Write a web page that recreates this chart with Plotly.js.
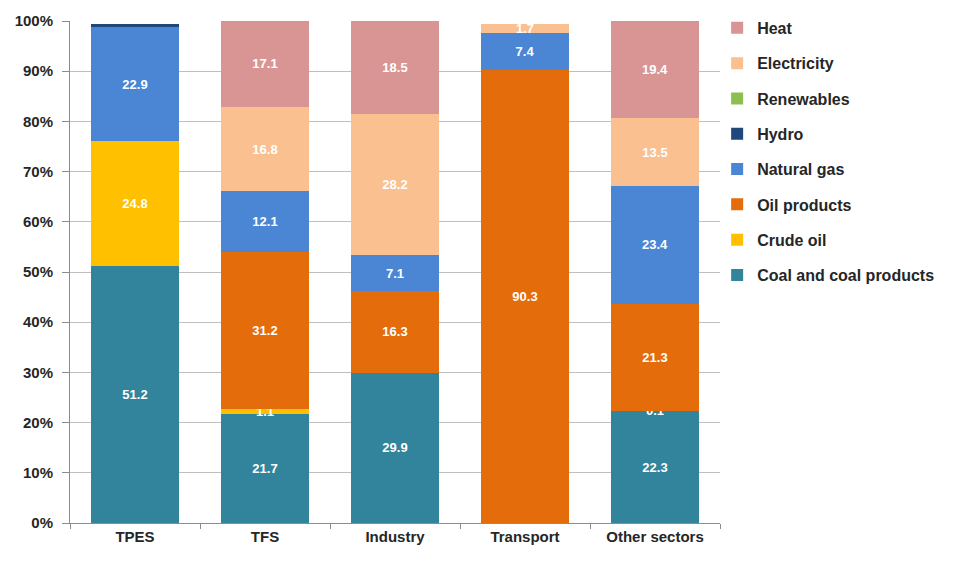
<!DOCTYPE html>
<html>
<head>
<meta charset="utf-8">
<script src="https://cdn.plot.ly/plotly-3.0.1.min.js"></script>
<style>
  html, body { margin: 0; padding: 0; background: #ffffff; }
  #chart { width: 959px; height: 561px; }
</style>
</head>
<body>
<div id="chart"></div>
<script>
// Sectors on the x axis
const categories = ['TPES', 'TFS', 'Industry', 'Transport', 'Other sectors'];

// Share of each energy source per sector (%)
const coal        = [51.2, 21.7, 29.9, 0,    22.3];
const crudeOil    = [24.8, 1.1,  0,    0,    0.1];
const oilProducts = [0,    31.2, 16.3, 90.3, 21.3];
const naturalGas  = [22.9, 12.1, 7.1,  7.4,  23.4];
const hydro       = [0.6,  0,    0,    0,    0];
const renewables  = [0,    0,    0,    0,    0];
const electricity = [0,    16.8, 28.2, 1.7,  13.5];
const heat        = [0,    17.1, 18.5, 0,    19.4];

// Which segments carry a value label
const showLabel = {
  coal:        [true, true, true, false, true],
  crudeOil:    [true, true, false, false, true],
  oilProducts: [false, true, true, true, true],
  naturalGas:  [true, true, true, true, true],
  hydro:       [false, false, false, false, false],
  renewables:  [false, false, false, false, false],
  electricity: [false, true, true, true, true],
  heat:        [false, true, true, false, true]
};

const series = [
  { name: 'Coal and coal products', values: coal,        key: 'coal',        color: '#31849b' },
  { name: 'Crude oil',              values: crudeOil,    key: 'crudeOil',    color: '#ffc000' },
  { name: 'Oil products',           values: oilProducts, key: 'oilProducts', color: '#e46c0a' },
  { name: 'Natural gas',            values: naturalGas,  key: 'naturalGas',  color: '#4a86d4' },
  { name: 'Hydro',                  values: hydro,       key: 'hydro',       color: '#1f497d' },
  { name: 'Renewables',             values: renewables,  key: 'renewables',  color: '#8cbf4f' },
  { name: 'Electricity',            values: electricity, key: 'electricity', color: '#fac090' },
  { name: 'Heat',                   values: heat,        key: 'heat',        color: '#d99594' }
];

const fam = '"Liberation Sans Narrow", "Arial Narrow", "Liberation Sans", Arial, sans-serif';
const labelFont = { family: fam, size: 13, color: '#ffffff', weight: 'bold' };
const axisFont  = { family: fam, size: 15, color: '#262626', weight: 'bold' };

const traces = series.map((s, i) => ({
  type: 'bar',
  name: s.name,
  x: categories,
  y: s.values,
  legendgroup: 'g' + i,
  legendrank: 100 - i,
  marker: { color: s.color, line: { width: 0 } },
  text: s.values.map((v, j) => showLabel[s.key][j] ? v.toFixed(1) : ''),
  texttemplate: '%{text}',
  textposition: 'inside',
  insidetextanchor: 'middle',
  textangle: 0,
  constraintext: 'none',
  cliponaxis: false,
  textfont: labelFont,
  hoverinfo: 'x+y+name'
}));

const layout = {
  width: 959,
  height: 561,
  margin: { l: 70, r: 239, t: 21, b: 38, autoexpand: false },
  paper_bgcolor: '#ffffff',
  plot_bgcolor: '#ffffff',
  barmode: 'stack',
  bargap: 0.33,
  showlegend: true,
  legend: {
    x: 0.991, xanchor: 'left',
    y: 1.026, yanchor: 'top',
    traceorder: 'grouped',
    tracegroupgap: 11.5,
    font: { family: fam, size: 16, color: '#262626', weight: 'bold' },
    itemwidth: 30,
    borderwidth: 3,
    bordercolor: 'rgba(255,255,255,0)',
    bgcolor: 'rgba(0,0,0,0)'
  },
  xaxis: {
    type: 'category',
    tickfont: axisFont,
    showline: true,
    linecolor: '#8c8c8c',
    linewidth: 1,
    ticks: 'outside',
    tickson: 'boundaries',
    ticklen: 5,
    tickcolor: '#8c8c8c',
    showgrid: false,
    fixedrange: true
  },
  yaxis: {
    range: [0, 100],
    dtick: 10,
    ticksuffix: '%',
    tickfont: axisFont,
    ticklabelstandoff: 6,
    showline: true,
    linecolor: '#8c8c8c',
    linewidth: 1,
    ticks: 'outside',
    ticklen: 7,
    tickcolor: '#8c8c8c',
    showgrid: true,
    gridcolor: '#bfbfbf',
    gridwidth: 1,
    zeroline: false,
    fixedrange: true
  },
  font: { family: fam }
};

Plotly.newPlot('chart', traces, layout, { displayModeBar: false, staticPlot: true });
</script>
</body>
</html>
